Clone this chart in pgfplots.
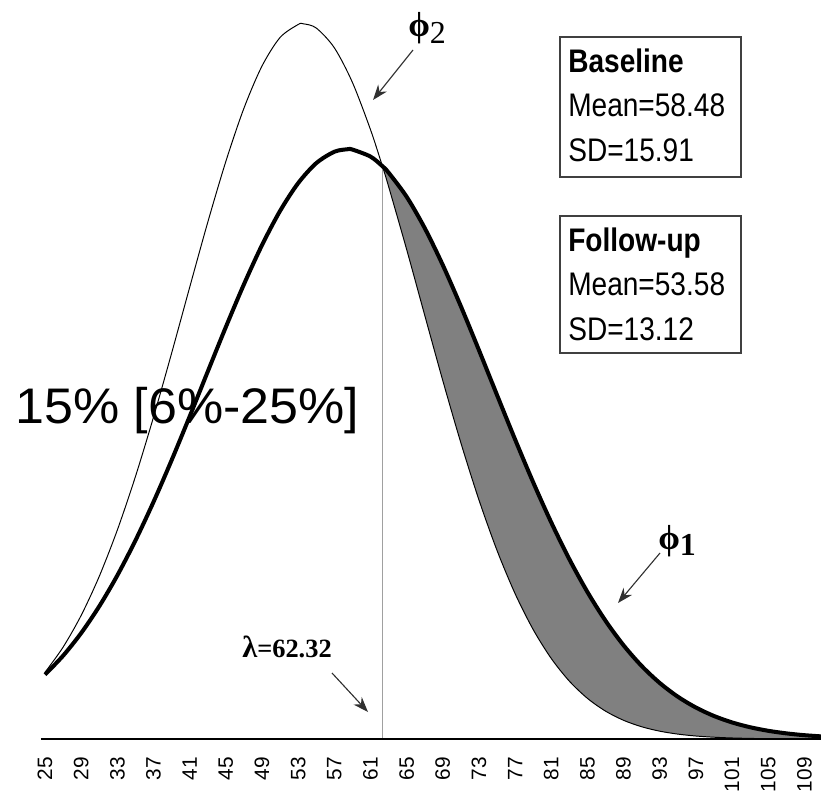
\documentclass[border=0pt]{standalone}
\usepackage{pgfplots}
\pgfplotsset{compat=1.18}
\usepackage{pgfplotstable}
\usepgfplotslibrary{fillbetween}
\usetikzlibrary{arrows.meta}
\usepackage{graphicx}
\usepackage{fontspec}
\setmainfont{Liberation Sans}
\newfontfamily\tms{Liberation Serif}
\definecolor{shade}{HTML}{808080}
\definecolor{boxc}{HTML}{404040}
\definecolor{arr}{HTML}{303030}
\definecolor{lam}{HTML}{A0A0A0}
\newcommand\bt[1]{\scalebox{0.86}[1]{\fontsize{23.5}{24}\selectfont #1}}

\pgfplotstableread{
x y
25 2.739
27 3.541
29 4.505
31 5.642
33 6.955
35 8.439
37 10.079
39 11.850
41 13.713
43 15.620
45 17.513
47 19.328
49 20.996
51 22.451
53 23.631
55 24.482
57 24.967
58.48 25.075
59 25.062
61 24.763
62.32 24.355
63 24.083
65 23.055
67 21.725
69 20.152
71 18.399
73 16.534
75 14.626
77 12.736
79 10.915
81 9.208
83 7.646
85 6.251
87 5.029
89 3.983
91 3.105
93 2.382
95 1.799
97 1.338
99 0.979
101 0.705
103 0.500
105 0.349
107 0.240
109 0.162
111 0.108
}\basetab

\pgfplotstableread{
x y
25 2.836
27 3.906
29 5.257
31 6.915
33 8.886
35 11.156
37 13.684
39 16.398
41 19.201
43 21.967
45 24.553
47 26.814
49 28.610
51 29.825
53 30.377
53.58 30.407
55 30.229
57 29.391
59 27.920
61 25.913
62.32 24.356
63 23.499
65 20.819
67 18.021
69 15.241
71 12.595
73 10.168
75 8.020
77 6.180
79 4.654
81 3.424
83 2.461
85 1.729
87 1.186
89 0.795
91 0.521
93 0.333
95 0.208
97 0.127
99 0.076
101 0.044
103 0.025
105 0.014
107 0.008
109 0.004
111 0.002
}\folltab

\begin{document}
\begin{tikzpicture}[x=0.72pt,y=0.72pt]
\begin{axis}[
  anchor=south west,
  scale only axis, width=591.12pt, height=532.08pt,
  xmin=20.02, xmax=110.84, ymin=0, ymax=31.42,
  axis line style={draw=none},
  ytick=\empty,
  xtick={25,29,...,109},
  major tick length=0pt,
  xticklabel style={rotate=90, anchor=east, inner sep=0pt, font=\fontsize{15}{15}\selectfont},
  xticklabel shift=13pt,
  /pgf/number format/assume math mode=true,
  clip=true,
]
\addplot[name path=foll, draw=none, forget plot, smooth] table {\folltab};
\addplot[name path=base, draw=none, forget plot, smooth] table {\basetab};
\addplot[fill=shade, draw=none] fill between[of=base and foll, soft clip={domain=62.32:111}];
\draw[lam, line width=0.9pt] (axis cs:62.32,0) -- (axis cs:62.32,24.356);
\draw[black, line width=1.1pt] (axis cs:24.55,0) -- (axis cs:110.84,0);
\addplot[black, line width=0.7pt, smooth] table {\folltab};
\addplot[black, line width=2.9pt, smooth, line join=round] table {\basetab};
\end{axis}

% boxes
\draw[boxc, line width=1.1pt] (560,739-37) rectangle (741,739-177);
\draw[boxc, line width=1.1pt] (560,739-216) rectangle (741,739-353);
\node[anchor=base west, inner sep=0pt] at (568,739-73) {\bt{\bfseries Baseline}};
\node[anchor=base west, inner sep=0pt] at (568,739-117) {\bt{Mean=58.48}};
\node[anchor=base west, inner sep=0pt] at (568,739-162) {\bt{SD=15.91}};
\node[anchor=base west, inner sep=0pt] at (568,739-252) {\bt{\bfseries Follow-up}};
\node[anchor=base west, inner sep=0pt] at (568,739-296) {\bt{Mean=53.58}};
\node[anchor=base west, inner sep=0pt] at (568,739-341) {\bt{SD=13.12}};

% big text
\node[anchor=base west, inner sep=0pt] at (15,739-423) {\scalebox{1.04}[1]{\fontsize{36}{36}\selectfont 15\% [6\%-25\%]}};

% phi labels
\node[anchor=base west, inner sep=0pt] at (408,739-37) {{\tms\bfseries\fontsize{25}{25}\selectfont ϕ}\raisebox{-5pt}{\tms\fontsize{23}{23}\selectfont 2}};
\node[anchor=base west, inner sep=0pt] at (658,739-549) {{\tms\bfseries\fontsize{25}{25}\selectfont ϕ}\raisebox{-5pt}{\tms\bfseries\fontsize{23}{23}\selectfont 1}};
\node[anchor=base west, inner sep=0pt] at (242,739-657) {{\tms\bfseries\fontsize{22}{22}\selectfont λ}{\tms\bfseries\fontsize{19}{19}\selectfont =62.32}};

% arrows
\draw[arr, line width=0.8pt, -{Stealth[length=11pt, width=8pt]}] (413,739-50) -- (373,739-100);
\draw[arr, line width=0.8pt, -{Stealth[length=11pt, width=8pt]}] (660,739-553) -- (618,739-603);
\draw[arr, line width=0.8pt, -{Stealth[length=11pt, width=8pt]}] (332,739-673) -- (368,739-712);

\pgfresetboundingbox
\path[use as bounding box] (0,-54) rectangle (821,739);
\end{tikzpicture}
\end{document}
